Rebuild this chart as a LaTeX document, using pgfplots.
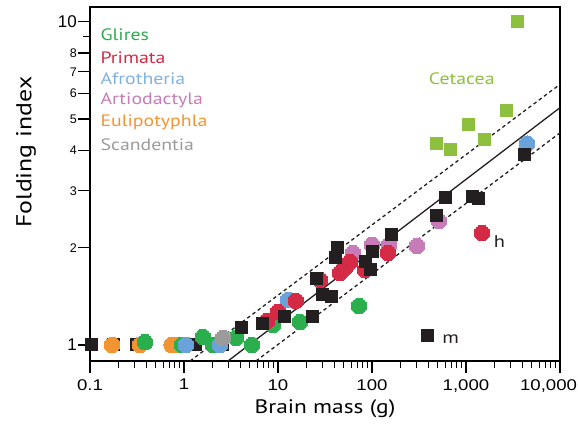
\documentclass[border=0pt]{standalone}
\usepackage{fontspec}
\setmainfont[FakeStretch=1.2]{PT Sans}
\newfontfamily\arialf{Liberation Sans}
\newfontfamily\arialw[FakeStretch=1.2]{Liberation Sans}
\usepackage{pgfplots}
\pgfplotsset{compat=1.18}
\definecolor{cGl}{HTML}{2BAE4E}
\definecolor{cPr}{HTML}{D42A45}
\definecolor{cAf}{HTML}{6AA3DA}
\definecolor{cAr}{HTML}{C77BB8}
\definecolor{cEu}{HTML}{F39433}
\definecolor{cSc}{HTML}{9B9B9B}
\definecolor{cCe}{HTML}{8DC03F}
\definecolor{cBk}{HTML}{231F20}
\pgfplotsset{
  circ/.style={only marks, color=#1, mark=*, mark size=7.8pt, mark options={solid, fill=#1, draw=#1, line width=0pt}},
  sq/.style={only marks, color=#1, mark=square*, mark size=6pt, mark options={solid, fill=#1, draw=#1, line width=0pt}},
}
\begin{document}
\begin{tikzpicture}
\begin{axis}[
  name=ax,
  scale only axis, width=470pt, height=354pt,
  xmode=log, ymode=log,
  xmin=0.1, xmax=10000, ymin=0.892, ymax=11.1,
  xtick={0.1,1,10,100,1000,10000},
  xticklabels={0.1,1,10,100,{1,000},{\makebox[34pt][r]{10,000}}},
  minor xtick={0.2,0.3,0.4,0.5,0.6,0.7,0.8,0.9,2,3,4,5,6,7,8,9,20,30,40,50,60,70,80,90,200,300,400,500,600,700,800,900,2000,3000,4000,5000,6000,7000,8000,9000},
  ytick={1,2,3,4,5,6,7,8,10},
  yticklabels={{\fontsize{17}{17}\selectfont 1},2,3,4,5,6,7,8,{\fontsize{17}{17}\selectfont 10}},
  minor ytick={9},
  tick align=outside, xtick pos=bottom, ytick pos=left,
  major tick length=12pt, minor tick length=7pt,
  axis line style={line width=1.6pt},
  every tick/.style={line width=1.2pt, black},
  xticklabel style={font=\arialw\fontsize{15.5}{15.5}\selectfont, inner sep=1pt, yshift=-5pt},
  yticklabel style={font=\arialf\fontsize{12.5}{12.5}\selectfont, inner sep=1pt},
  xlabel={Brain mass (g)}, ylabel={Folding index},
  every axis x label/.style={at={(rel axis cs:0.5,0)}, yshift=-48pt, anchor=center, font=\fontsize{19.5}{21}\selectfont},
  every axis y label/.style={at={(rel axis cs:0,0.59)}, xshift=-64pt, rotate=90, anchor=center, font=\fontsize{21.5}{23}\selectfont},
  clip marker paths=false,
]
% black squares, flat region
\addplot[sq=cBk] coordinates {
 (0.105,1.0) (0.176,1.0) (0.316,1.0) (1.34,1.0) (2.54,1.0) };
% Eulipotyphla
\addplot[circ=cEu] coordinates {
 (0.172,1.0) (0.34,1.0) (0.74,1.0) (0.80,1.0) };
% Glires
\addplot[circ=cGl] coordinates {
 (0.385,1.02) (0.953,1.0) (1.59,1.059) (2.04,1.0) (3.57,1.051) (5.28,1.0) (8.85,1.153) (17.1,1.178) (72.8,1.32) };
% Afrotheria
\addplot[circ=cAf] coordinates {
 (1.05,1.0) (2.41,1.0) (12.8,1.378) (4460,4.19) };
% Scandentia
\addplot[circ=cSc] coordinates {
 (2.60,1.051) };
% Artiodactyla
\addplot[circ=cAr] coordinates {
 (62.8,1.926) (100,2.04) (152,2.04) (301,2.025) (516,2.42) };
% Primata
\addplot[circ=cPr] coordinates {
 (7.64,1.187) (10,1.265) (15.5,1.369) (28.0,1.589) (45.7,1.67) (51.6,1.73) (58.3,1.807) (84.4,1.707) (148,1.926) (1479,2.22) };
% black squares, rest
\addplot[sq=cBk] coordinates {
 (4.14,1.129) (6.92,1.161) (11.6,1.221) (23.5,1.221) (25.4,1.601) (29.4,1.428) (37.5,1.408)
 (43.4,1.996) (41.4,1.859) (84.4,1.807) (95.3,1.707) (100,1.95) (163,2.19) (491,2.51)
 (598,2.85) (1186,2.87) (1374,2.83) (4140,3.88) (394,1.066) };
% Cetacea
\addplot[sq=cCe] coordinates {
 (3570,10.02) (2670,5.30) (1076,4.80) (1592,4.31) (480,4.19) (692,4.01) };
% regression lines
\addplot[cBk, line width=1.3pt] coordinates {(2.94,0.892) (10000,5.42)};
\addplot[cBk, line width=1.3pt, dash pattern=on 3.5pt off 3pt] coordinates {(1.16,0.892) (10000,6.4)};
\addplot[cBk, line width=1.3pt, dash pattern=on 3.5pt off 3pt] coordinates {(5.83,0.892) (10000,4.53)};
% labels
\node[anchor=west, text=cGl, font=\fontsize{16.5}{16.5}\selectfont] at (rel axis cs:0.015,0.921) {Glires};
\node[anchor=west, text=cPr, font=\fontsize{16.5}{16.5}\selectfont] at (rel axis cs:0.015,0.858) {Primata};
\node[anchor=west, text=cAf!85!white, font=\fontsize{16.5}{16.5}\selectfont] at (rel axis cs:0.015,0.797) {Afrotheria};
\node[anchor=west, text=cAr, font=\fontsize{16.5}{16.5}\selectfont] at (rel axis cs:0.015,0.737) {Artiodactyla};
\node[anchor=west, text=cEu, font=\fontsize{16.5}{16.5}\selectfont] at (rel axis cs:0.015,0.675) {Eulipotyphla};
\node[anchor=west, text=cSc, font=\fontsize{16.5}{16.5}\selectfont] at (rel axis cs:0.015,0.612) {Scandentia};
\node[text=cCe, font=\fontsize{16.5}{16.5}\selectfont] at (rel axis cs:0.791,0.797) {Cetacea};
\node[anchor=west, text=cBk, font=\fontsize{17}{17}\selectfont] at (rel axis cs:0.852,0.337) {h};
\node[anchor=west, text=cBk, font=\fontsize{17}{17}\selectfont] at (rel axis cs:0.742,0.062) {m};
\end{axis}
\pgfresetboundingbox
\path ([shift={(-90pt,-78pt)}]ax.south west) rectangle ([shift={(18pt,7pt)}]ax.north east);
\end{tikzpicture}
\end{document}
